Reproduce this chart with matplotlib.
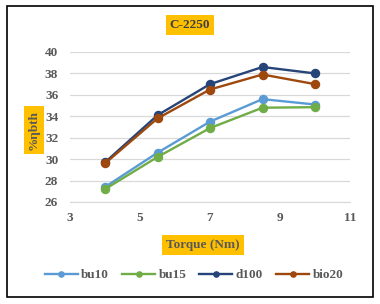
import matplotlib
matplotlib.use("Agg")
import matplotlib.pyplot as plt
from matplotlib.patches import Rectangle

# data
torque = [4, 5.5, 7, 8.5, 10]
bu10 = [27.4, 30.6, 33.5, 35.6, 35.1]
bu15 = [27.2, 30.2, 32.9, 34.8, 34.85]
d100 = [29.7, 34.1, 37.0, 38.6, 38.0]
bio20 = [29.6, 33.8, 36.5, 37.9, 37.0]
series_names = ["bu10", "bu15", "d100", "bio20"]
x_ticks = [3, 5, 7, 9, 11]
y_ticks = [26, 28, 30, 32, 34, 36, 38, 40]

colors = ["#5B9BD5", "#70AD47", "#264478", "#9E480E"]
txt_col = "#595959"
box_col = "#FFC000"

plt.rcParams['font.family'] = ['Liberation Serif', 'DejaVu Serif']
plt.rcParams['font.weight'] = 'bold'

W, H = 380, 304
fig = plt.figure(figsize=(W / 100, H / 100), dpi=100)

# outer border
fig.patches.append(Rectangle((7 / W, 1 - 297 / H), 366 / W, 291 / H,
                             transform=fig.transFigure, fill=False,
                             edgecolor="black", linewidth=1.2))

ax = fig.add_axes([70 / W, 1 - 202 / H, 280 / W, 150 / H])
for name, vals, c in zip(series_names, [bu10, bu15, d100, bio20], colors):
    ax.plot(torque, vals, color=c, lw=1.7, marker="o", ms=5.8, label=name)

ax.set_xlim(3, 11)
ax.set_ylim(26, 40)
ax.set_xticks(x_ticks)
ax.set_yticks(y_ticks)
ax.grid(axis="y", color="#D9D9D9", lw=0.9)
ax.set_axisbelow(True)
for s in ["top", "right", "left"]:
    ax.spines[s].set_visible(False)
ax.spines["bottom"].set_color("#D9D9D9")
ax.tick_params(length=0, labelsize=9.5, labelcolor=txt_col)
ax.tick_params(axis="y", pad=8.5)
ax.tick_params(axis="x", pad=7.5)
for lab in ax.get_xticklabels() + ax.get_yticklabels():
    lab.set_fontweight("bold")

bbox = dict(boxstyle="square,pad=0.3", fc=box_col, ec="none")
fig.text(190 / W, 1 - 25 / H, "C-2250", ha="center", va="center",
         fontsize=9.5, color="#404040", fontweight="bold", bbox=bbox)
fig.text(203 / W, 1 - 245 / H, "Torque (Nm)", ha="center", va="center",
         fontsize=9.5, color=txt_col, fontweight="bold", bbox=bbox)
fig.text(34 / W, 1 - 130 / H, "%ηbth", ha="center", va="center",
         rotation=90, fontsize=9.5, color=txt_col, fontweight="bold", bbox=bbox)

leg = fig.legend(loc="center", bbox_to_anchor=(194 / W, 1 - 275 / H), ncol=4,
                 frameon=False, fontsize=9.5, handlelength=2.5,
                 columnspacing=1.0, handletextpad=0.25, markerscale=0.65)
for t in leg.get_texts():
    t.set_color(txt_col)
    t.set_fontweight("bold")

fig.savefig("out.png", dpi=100)
